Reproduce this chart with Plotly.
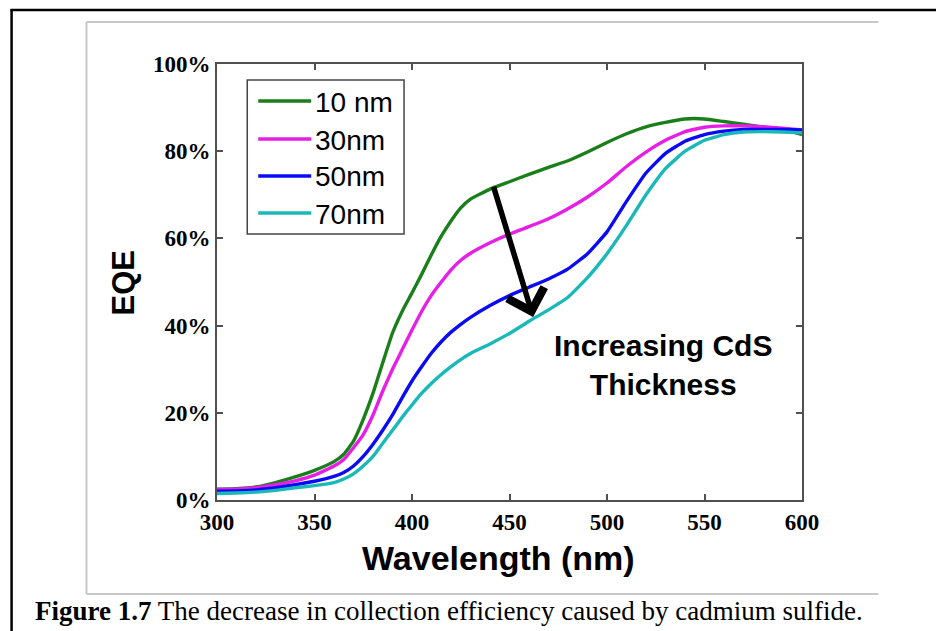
import plotly.graph_objects as go

# ---------------- data ----------------
wavelength = [300, 310, 320, 330, 340, 350, 360, 365, 370, 375, 380, 385, 390, 395,
              400, 405, 410, 415, 420, 425, 430, 440, 450, 460, 470, 480, 490, 500,
              510, 520, 530, 540, 550, 560, 570, 580, 590, 600]

eqe_10nm = [2.5, 2.6, 3.0, 4.0, 5.3, 6.8, 8.8, 10.5, 13.5, 18.5, 24.5, 31.5, 38.3, 43.3,
            47.5, 51.8, 56.3, 60.5, 64.0, 67.0, 69.0, 71.3, 73.0, 74.7, 76.3, 77.8, 79.8, 82.0,
            84.0, 85.6, 86.6, 87.4, 87.4, 86.8, 86.2, 85.5, 85.0, 83.8]
eqe_30nm = [2.4, 2.5, 2.8, 3.5, 4.4, 5.7, 7.8, 9.3, 12.0, 15.0, 19.5, 25.0, 30.0, 34.5,
            39.0, 43.3, 47.0, 50.0, 52.8, 55.0, 56.6, 59.0, 61.0, 62.7, 64.5, 66.8, 69.5, 72.7,
            76.5, 79.8, 82.5, 84.5, 85.5, 85.8, 85.8, 85.6, 85.3, 84.9]
eqe_50nm = [2.0, 2.1, 2.3, 2.8, 3.5, 4.3, 5.4, 6.3, 7.8, 10.0, 12.8, 16.0, 19.5, 23.5,
            27.3, 30.6, 33.7, 36.3, 38.5, 40.3, 41.9, 44.6, 46.9, 48.8, 50.7, 53.0, 56.5, 61.5,
            68.5, 75.0, 79.5, 82.3, 83.8, 84.6, 85.0, 85.0, 85.0, 84.9]
eqe_70nm = [1.5, 1.6, 1.8, 2.2, 2.8, 3.3, 4.0, 4.8, 6.0, 7.8, 10.0, 13.0, 16.0, 19.0,
            21.8, 24.5, 26.8, 28.8, 30.6, 32.2, 33.6, 35.8, 38.2, 41.0, 43.6, 46.5, 51.0, 56.5,
            63.0, 70.0, 76.0, 80.0, 82.5, 83.8, 84.4, 84.5, 84.4, 84.2]

series_names = ["10 nm", "30nm", "50nm", "70nm"]
series_values = [eqe_10nm, eqe_30nm, eqe_50nm, eqe_70nm]
series_colors = ["#1a7f1a", "#e61ee6", "#0a0af5", "#1ab8b8"]

x_ticks = [300, 350, 400, 450, 500, 550, 600]
y_ticks = [0, 20, 40, 60, 80, 100]

arrow_start = (441.6, 72.2)   # (wavelength, EQE %)
arrow_end = (462.1, 42.0)
note_pos = (528.5, 31.0)
note_text = "Increasing CdS<br>Thickness"
caption_bold = "Figure 1.7"
caption_rest = " The decrease in collection efficiency caused by cadmium sulfide."

# ---------------- layout geometry (pixels) ----------------
W, H = 936, 631
PL, PR, PT, PB = 216.7, 802.5, 64.0, 500.0


def px(xpix):
    return (xpix - PL) / (PR - PL)


def py(ypix):
    return (PB - ypix) / (PB - PT)


fig = go.Figure()
for name, vals, col in zip(series_names, series_values, series_colors):
    fig.add_trace(go.Scatter(x=wavelength, y=vals, mode="lines", name=name,
                             line=dict(color=col, width=3.4, shape="spline", smoothing=0.4),
                             showlegend=False))

shapes = []
annotations = []

# outer black frame (top + left)
shapes.append(dict(type="line", xref="paper", yref="paper", x0=px(10), x1=px(940),
                   y0=py(10), y1=py(10), line=dict(color="black", width=2.5)))
shapes.append(dict(type="line", xref="paper", yref="paper", x0=px(11), x1=px(11),
                   y0=py(9), y1=py(640), line=dict(color="black", width=2.5)))
# inner gray frame
shapes.append(dict(type="line", xref="paper", yref="paper", x0=px(86), x1=px(879),
                   y0=py(22), y1=py(22), line=dict(color="#c8c8c8", width=2)))
shapes.append(dict(type="line", xref="paper", yref="paper", x0=px(86), x1=px(86),
                   y0=py(22), y1=py(594), line=dict(color="#c8c8c8", width=2)))
shapes.append(dict(type="line", xref="paper", yref="paper", x0=px(86), x1=px(879),
                   y0=py(594), y1=py(594), line=dict(color="#c8c8c8", width=2)))

# legend (drawn manually to match the reference layout)
shapes.append(dict(type="rect", xref="paper", yref="paper", x0=px(247), x1=px(404),
                   y0=py(80), y1=py(234), line=dict(color="#444444", width=1.5),
                   fillcolor="white", layer="above"))
leg_rows = [101, 139, 176, 213]
for name, col, yy in zip(series_names, series_colors, leg_rows):
    shapes.append(dict(type="line", xref="paper", yref="paper", x0=px(258), x1=px(311),
                       y0=py(yy), y1=py(yy), line=dict(color=col, width=3.4), layer="above"))
    annotations.append(dict(xref="paper", yref="paper", x=px(313), y=py(yy + 1),
                            xanchor="left", yanchor="middle", showarrow=False, text=name,
                            font=dict(family="Liberation Sans, Arial", size=28, color="black")))

# arrow
annotations.append(dict(x=arrow_end[0], y=arrow_end[1], ax=arrow_start[0], ay=arrow_start[1],
                        xref="x", yref="y", axref="x", ayref="y", text="", showarrow=True,
                        arrowhead=4, arrowsize=1.35, arrowwidth=5.5, arrowcolor="black"))
# note
annotations.append(dict(x=note_pos[0], y=note_pos[1], xref="x", yref="y",
                        text="<b>" + note_text.replace("<br>", "</b><br><b>") + "</b>",
                        showarrow=False, xanchor="center", yanchor="middle",
                        font=dict(family="Liberation Sans, Arial", size=30, color="black")))
# caption
annotations.append(dict(xref="paper", yref="paper", x=px(32), y=py(611), xanchor="left",
                        yanchor="middle", showarrow=False,
                        text="<b>" + caption_bold + "</b>" + caption_rest,
                        font=dict(family="Liberation Serif, Times New Roman", size=27,
                                  color="black")))
# axis titles
annotations.append(dict(xref="paper", yref="paper", x=px(499), y=py(558), xanchor="center",
                        yanchor="middle", showarrow=False, text="<b>Wavelength (nm)</b>",
                        font=dict(family="Liberation Sans, Arial", size=34, color="black")))
annotations.append(dict(xref="paper", yref="paper", x=px(123), y=py(283), xanchor="center",
                        yanchor="middle", showarrow=False, text="<b>EQE</b>", textangle=-90,
                        font=dict(family="Liberation Sans, Arial", size=31, color="black")))

axis_common = dict(showline=True, linecolor="#505050", linewidth=2, mirror="ticks",
                   ticks="inside", ticklen=6, tickwidth=1.5, tickcolor="#505050",
                   showgrid=False, zeroline=False,
                   tickfont=dict(family="Liberation Serif, Times New Roman", size=23,
                                 color="black"))

fig.update_layout(
    width=W, height=H, autosize=False,
    margin=dict(l=PL, r=W - PR, t=PT, b=H - PB, pad=0),
    paper_bgcolor="white", plot_bgcolor="white",
    xaxis=dict(range=[300, 600], tickvals=x_ticks,
               ticktext=["<b>%d</b>" % v for v in x_ticks], **axis_common),
    yaxis=dict(range=[0, 100], tickvals=y_ticks,
               ticktext=["<b>%d%%</b>" % v for v in y_ticks], **axis_common),
    shapes=shapes, annotations=annotations, showlegend=False,
)

fig.write_html("out.html")
